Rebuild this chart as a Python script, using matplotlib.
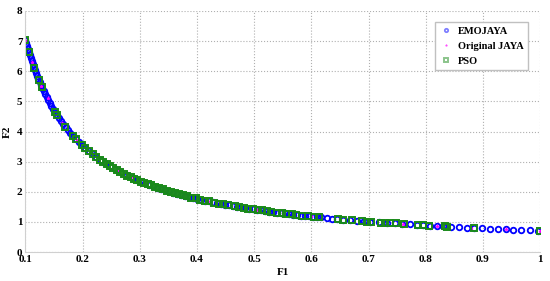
import numpy as np
import matplotlib.pyplot as plt

# EMOJAYA front
emo_f1 = [0.1003, 0.1017, 0.1032, 0.1047, 0.1063, 0.1079, 0.1096, 0.1113, 0.1131, 0.1150,
          0.1169, 0.1188, 0.1209, 0.1230, 0.1251, 0.1274, 0.1297, 0.1321, 0.1347, 0.1373,
          0.1400, 0.1428, 0.1458, 0.1488, 0.1520, 0.1554, 0.1589, 0.1625, 0.1664, 0.1704,
          0.1746, 0.1790, 0.1836, 0.1885, 0.1937, 0.1992, 0.2049, 0.2110, 0.2175, 0.2244,
          0.2318, 0.2397, 0.2481, 0.2571, 0.2668, 0.2773, 0.2886,
          0.295, 0.302, 0.309, 0.316, 0.323, 0.330, 0.337, 0.344, 0.351, 0.358,
          0.365, 0.372, 0.379, 0.386, 0.393, 0.400, 0.407, 0.414, 0.421, 0.428,
          0.435, 0.442, 0.449, 0.456, 0.463, 0.470, 0.477, 0.484, 0.491, 0.498,
          0.505, 0.512, 0.519, 0.526, 0.533, 0.540, 0.547, 0.554, 0.561, 0.568,
          0.575, 0.582, 0.589, 0.596, 0.603, 0.610, 0.617,
          0.627, 0.636, 0.645, 0.655, 0.667, 0.680, 0.692, 0.703, 0.718, 0.733,
          0.746, 0.759, 0.773, 0.784, 0.796, 0.808, 0.820, 0.830, 0.844, 0.858,
          0.872, 0.884, 0.899, 0.913, 0.926, 0.940, 0.953, 0.967, 0.982, 0.996]
emo_f2 = [7.05, 6.95, 6.85, 6.75, 6.65, 6.55, 6.45, 6.35, 6.25, 6.15,
          6.05, 5.95, 5.85, 5.75, 5.65, 5.55, 5.45, 5.35, 5.25, 5.15,
          5.05, 4.95, 4.85, 4.75, 4.65, 4.55, 4.45, 4.35, 4.25, 4.15,
          4.05, 3.95, 3.85, 3.75, 3.65, 3.55, 3.45, 3.35, 3.25, 3.15,
          3.05, 2.95, 2.85, 2.75, 2.65, 2.55, 2.45,
          2.40, 2.34, 2.29, 2.24, 2.19, 2.14, 2.10, 2.06, 2.01, 1.97,
          1.94, 1.90, 1.87, 1.83, 1.80, 1.77, 1.74, 1.71, 1.68, 1.65,
          1.63, 1.60, 1.57, 1.55, 1.53, 1.50, 1.48, 1.46, 1.44, 1.42,
          1.40, 1.38, 1.36, 1.34, 1.33, 1.31, 1.29, 1.28, 1.26, 1.24,
          1.23, 1.21, 1.20, 1.19, 1.17, 1.16, 1.15,
          1.13, 1.11, 1.10, 1.08, 1.06, 1.04, 1.02, 1.01, 0.99, 0.97,
          0.95, 0.93, 0.92, 0.90, 0.89, 0.88, 0.86, 0.85, 0.84, 0.83,
          0.81, 0.80, 0.79, 0.77, 0.76, 0.75, 0.74, 0.73, 0.72, 0.71]

# Original JAYA (mostly hidden under the others)
jaya_f1 = [0.100, 0.112, 0.128, 0.140, 0.165, 0.190, 0.215, 0.240, 0.262, 0.285,
           0.310, 0.345, 0.380, 0.420, 0.460, 0.505, 0.550, 0.600, 0.650, 0.700,
           0.760, 0.820, 0.880, 0.940, 1.000]
jaya_f2 = [7.05, 6.30, 5.50, 5.12, 4.28, 3.72, 3.30, 2.95, 2.72, 2.48,
           2.28, 2.05, 1.86, 1.68, 1.54, 1.40, 1.29, 1.18, 1.09, 1.01,
           0.93, 0.86, 0.80, 0.75, 0.71]

# PSO front
pso_f1 = [0.100, 0.106, 0.116, 0.124, 0.129, 0.152, 0.155, 0.170, 0.184, 0.189,
          0.199, 0.205, 0.212, 0.218, 0.224, 0.230, 0.236, 0.242, 0.248, 0.254,
          0.260, 0.266, 0.272, 0.278, 0.284, 0.290, 0.296, 0.302, 0.308, 0.314,
          0.320, 0.326, 0.333, 0.340, 0.347, 0.354, 0.361, 0.368, 0.375, 0.382,
          0.390, 0.398, 0.406, 0.414, 0.422, 0.430, 0.438, 0.446, 0.454, 0.466,
          0.474, 0.482, 0.490, 0.498, 0.506, 0.514, 0.522, 0.530, 0.540, 0.548,
          0.556, 0.566, 0.574, 0.584, 0.594, 0.604, 0.614, 0.646, 0.656, 0.672,
          0.688, 0.698, 0.704, 0.721, 0.728, 0.737, 0.748, 0.762, 0.787, 0.795,
          0.805, 0.833, 0.838, 0.885, 1.000]
pso_f2 = [7.05, 6.65, 6.10, 5.70, 5.48, 4.65, 4.55, 4.15, 3.84, 3.74,
          3.55, 3.45, 3.34, 3.24, 3.16, 3.07, 3.00, 2.92, 2.85, 2.78,
          2.72, 2.66, 2.60, 2.54, 2.49, 2.44, 2.39, 2.34, 2.30, 2.25,
          2.21, 2.17, 2.12, 2.08, 2.04, 2.00, 1.96, 1.92, 1.89, 1.85,
          1.81, 1.78, 1.74, 1.71, 1.68, 1.64, 1.61, 1.59, 1.56, 1.52,
          1.49, 1.47, 1.44, 1.42, 1.40, 1.38, 1.35, 1.33, 1.31, 1.29,
          1.27, 1.25, 1.23, 1.21, 1.19, 1.17, 1.15, 1.10, 1.08, 1.05,
          1.03, 1.01, 1.00, 0.98, 0.97, 0.96, 0.95, 0.93, 0.90, 0.89,
          0.88, 0.85, 0.84, 0.80, 0.71]

plt.rcParams['font.family'] = ['Liberation Serif', 'DejaVu Serif']
plt.rcParams['font.weight'] = 'bold'

fig = plt.figure(figsize=(5.5, 2.81), dpi=100)
ax = fig.add_axes([0.046, 0.103, 0.936, 0.858])

ax.plot(emo_f1, emo_f2, 'o', ls='none', mfc='none', mec='blue', ms=4.0, mew=1.3, label='EMOJAYA')
ax.plot(jaya_f1, jaya_f2, '*', ls='none', color='#ff00ff', ms=2.5, mew=0.5, label='Original JAYA')
ax.plot(pso_f1, pso_f2, 's', ls='none', mfc='none', mec='#1a8a1a', ms=3.8, mew=1.4, label='PSO')

ax.set_xlim(0.1, 1)
ax.set_ylim(0, 8)
ax.set_xticks(np.arange(0.1, 1.01, 0.1))
ax.set_xticklabels(['0.1', '0.2', '0.3', '0.4', '0.5', '0.6', '0.7', '0.8', '0.9', '1'])
ax.set_yticks(range(0, 9))
ax.grid(True, ls=':', color='#b0b0b0', lw=0.8)
for s in ['top', 'right']:
    ax.spines[s].set_visible(False)
for s in ['left', 'bottom']:
    ax.spines[s].set_color('#d0d0d0')
ax.tick_params(length=0, labelsize=8, pad=2)
ax.set_xlabel('F1', fontsize=8, fontweight='bold', labelpad=3)
ax.set_ylabel('F2', fontsize=8, fontweight='bold', labelpad=4)

leg = ax.legend(loc='upper right', bbox_to_anchor=(0.987, 0.975), prop={'weight': 'bold', 'size': 7.5},
                fancybox=False, framealpha=1, edgecolor='#c0c0c0', handlelength=1.2,
                markerscale=0.6, borderpad=0.4, labelspacing=0.55, handletextpad=0.6)
for h in leg.legend_handles:
    h.set_alpha(0.5)

fig.savefig('out.png', dpi=100)
